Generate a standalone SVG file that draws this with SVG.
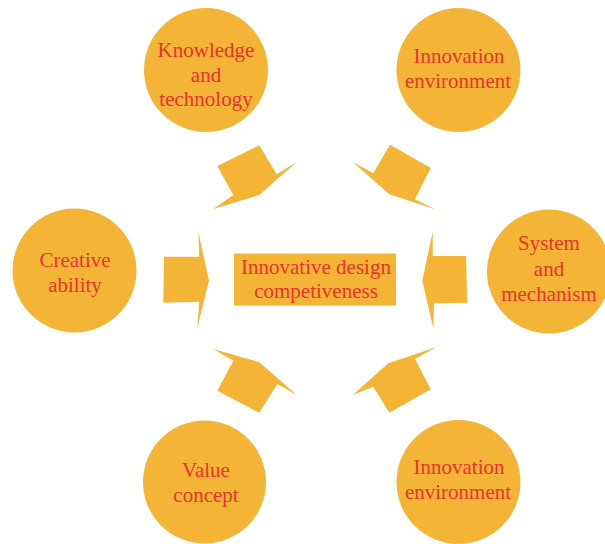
<svg xmlns="http://www.w3.org/2000/svg" width="605" height="544" viewBox="0 0 605 544">
  <style>
    .node { fill: #F4B436; }
    .arrow { fill: #F4B436; }
    .label { font-family: "Liberation Serif", "Times New Roman", serif; font-size: 21px; fill: #E8352B; text-anchor: middle; }
  </style>
  <rect width="605" height="544" fill="#ffffff"/>

  <!-- central goal -->
  <g id="center">
    <rect class="node" x="234" y="253.5" width="162" height="52"/>
    <text class="label" x="316" y="273.5">Innovative design</text>
    <text class="label" x="316" y="298">competiveness</text>
  </g>

  <!-- surrounding factors -->
  <g id="knowledge">
    <circle class="node" cx="206" cy="70" r="62"/>
    <text class="label" x="206" y="57">Knowledge</text>
    <text class="label" x="206" y="82">and</text>
    <text class="label" x="206" y="106">technology</text>
  </g>
  <g id="environment-top">
    <circle class="node" cx="458.5" cy="70" r="62"/>
    <text class="label" x="459" y="63">Innovation</text>
    <text class="label" x="458" y="87.5">environment</text>
  </g>
  <g id="creative">
    <circle class="node" cx="74.5" cy="270.5" r="62"/>
    <text class="label" x="75" y="267">Creative</text>
    <text class="label" x="75" y="292">ability</text>
  </g>
  <g id="system">
    <circle class="node" cx="549" cy="271.5" r="62"/>
    <text class="label" x="549" y="250">System</text>
    <text class="label" x="549" y="275.5">and</text>
    <text class="label" x="549" y="301">mechanism</text>
  </g>
  <g id="value">
    <circle class="node" cx="204.5" cy="482" r="61.5"/>
    <text class="label" x="206" y="476.5">Value</text>
    <text class="label" x="206" y="502">concept</text>
  </g>
  <g id="environment-bottom">
    <circle class="node" cx="458.5" cy="482" r="62"/>
    <text class="label" x="459" y="473.5">Innovation</text>
    <text class="label" x="458" y="498.5">environment</text>
  </g>

  <!-- block arrows pointing to the centre -->
  <g id="connectors">
    <polygon class="arrow" points="217.3,166 259.3,145.3 276.7,174.3 296.7,162 259.3,195 213.3,209 233.3,195"/>
    <polygon class="arrow" points="390,144.7 430.7,168 415,199.3 435,209.3 389.3,194.3 352.7,162 373.3,173.3"/>
    <polygon class="arrow" points="164,256.7 199.3,256.7 198.3,231.7 209,280.7 197.3,328.3 199.3,301.7 163.3,302.7"/>
    <polygon class="arrow" points="422.3,280.7 432.7,231.7 432.7,256 466,256 467.3,302.7 434,303.3 433.3,328.3"/>
    <polygon class="arrow" points="213.3,349 259.3,362.3 296.7,395 277.3,384 259.3,412.7 217.3,390.7 233.3,360.7"/>
    <polygon class="arrow" points="436,347.3 415,359 430.7,389.3 389.3,412.7 373.3,386.7 352.7,395 388.3,363.3"/>
  </g>
</svg>
